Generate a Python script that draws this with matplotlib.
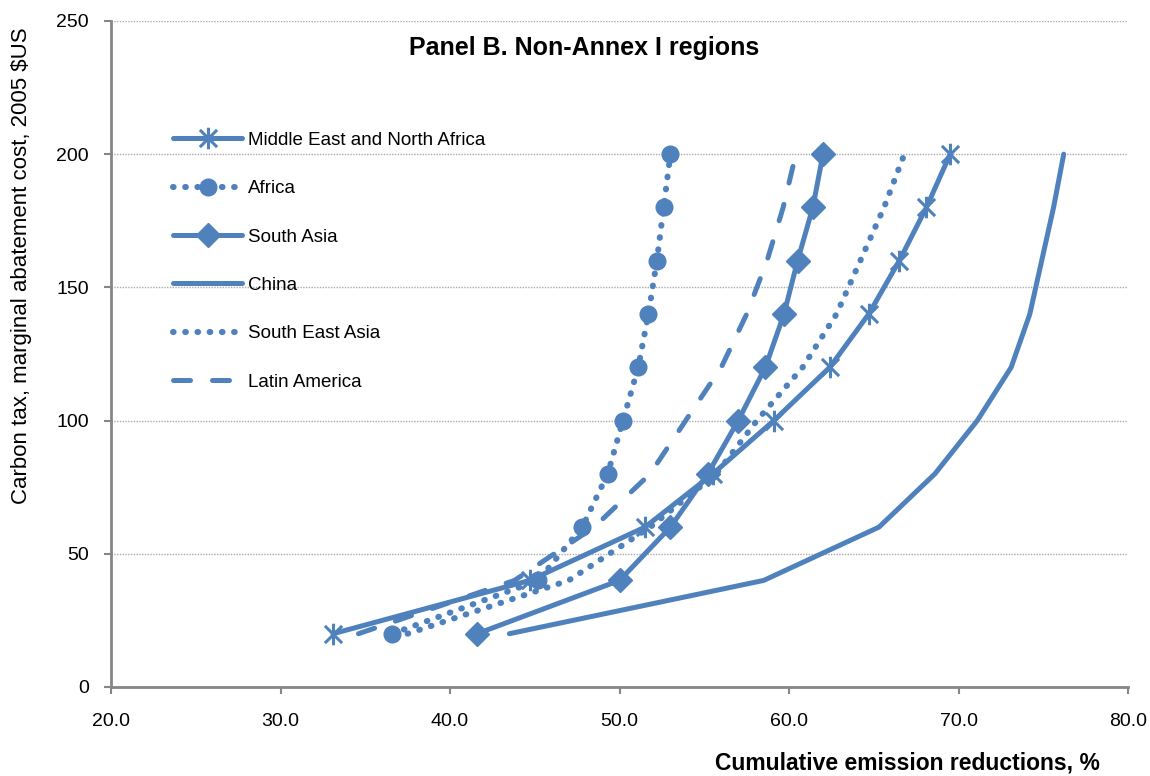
import numpy as np
import matplotlib
matplotlib.use("Agg")
import matplotlib.pyplot as plt
from matplotlib.path import Path

plt.rcParams['font.family'] = ['Liberation Sans', 'DejaVu Sans']

# carbon tax levels (y) and cumulative reductions (x, %) per region
tax = [20, 40, 60, 80, 100, 120, 140, 160, 180, 200]
mena = [33.1, 44.7, 51.5, 55.5, 59.1, 62.4, 64.7, 66.5, 68.1, 69.5]
africa = [36.6, 45.2, 47.8, 49.3, 50.2, 51.1, 51.7, 52.2, 52.6, 53.0]
south_asia = [41.6, 50.0, 53.0, 55.2, 57.0, 58.6, 59.7, 60.5, 61.4, 62.0]
china = [43.5, 58.5, 65.3, 68.6, 71.1, 73.1, 74.2, 74.9, 75.6, 76.2]
se_asia = [37.5, 47.0, 51.8, 55.7, 58.1, 60.8, 62.8, 64.2, 65.6, 66.8]
latin_america = [34.6, 43.8, 48.5, 51.8, 53.9, 56.0, 57.5, 58.7, 59.65, 60.4]

xticks = [20, 30, 40, 50, 60, 70, 80]
yticks = [0, 50, 100, 150, 200, 250]

blue = '#4F81BD'
gray = '#868686'

# excel style star: an x with a vertical bar through it
star = Path([(-1, -1), (1, 1), (-1, 1), (1, -1), (0, -1.25), (0, 1.25)],
            [Path.MOVETO, Path.LINETO, Path.MOVETO, Path.LINETO, Path.MOVETO, Path.LINETO])

fig = plt.figure(figsize=(11.5, 7.76), dpi=100)
ax = fig.add_axes([0.0965, 0.1147, 0.8845, 0.8583])

lw = 3.6
dlw = 4.4
dots = (0, (0.1, 1.9))
ax.plot(mena, tax, color=blue, lw=lw, marker=star, ms=15.5, mew=2.2,
        label='Middle East and North Africa', solid_capstyle='round')
ax.plot(africa, tax, color=blue, lw=dlw, ls=dots, dash_capstyle='round',
        marker='o', ms=12, label='Africa')
ax.plot(south_asia, tax, color=blue, lw=lw, marker='D', ms=12.5,
        label='South Asia', solid_capstyle='round')
ax.plot(china, tax, color=blue, lw=lw, label='China', solid_capstyle='round')
ax.plot(se_asia, tax, color=blue, lw=dlw, ls=dots, dash_capstyle='round',
        label='South East Asia')
ax.plot(latin_america, tax, color=blue, lw=lw, ls=(0, (3.4, 4.4)), dash_capstyle='round',
        label='Latin America')

ax.set_xlim(20, 80)
ax.set_ylim(0, 250)
ax.set_xticks(xticks)
ax.set_xticklabels([f'{v:.1f}' for v in xticks])
ax.set_yticks(yticks)
ax.tick_params(labelsize=14, color=gray, width=1.5, length=5, direction='out')
ax.tick_params(axis='x', pad=14)
ax.tick_params(axis='y', pad=11)

for s in ['top', 'right']:
    ax.spines[s].set_visible(False)
for s in ['left', 'bottom']:
    ax.spines[s].set_color(gray)
    ax.spines[s].set_linewidth(2)

ax.yaxis.grid(True, color='#ababab', ls=(0, (1, 1)), lw=1)
ax.set_axisbelow(True)

ax.text(0.465, 0.96, 'Panel B. Non-Annex I regions', transform=ax.transAxes,
        ha='center', va='center', fontsize=18, fontweight='bold')

fig.text(22 / 1150, 1 - 266 / 776, 'Carbon tax, marginal abatement cost, 2005 $US',
         rotation=90, ha='center', va='center', fontsize=16)
fig.text(1100 / 1150, 1 - 763 / 776, 'Cumulative emission reductions, %',
         ha='right', va='center', fontsize=16.5, fontweight='bold')

ax.legend(loc='upper left', bbox_to_anchor=(0.061, 0.834), frameon=False,
          fontsize=13.5, handlelength=3.7, handletextpad=0.3, labelspacing=1.67,
          borderpad=0, borderaxespad=0)

fig.savefig('out.png', dpi=100)
